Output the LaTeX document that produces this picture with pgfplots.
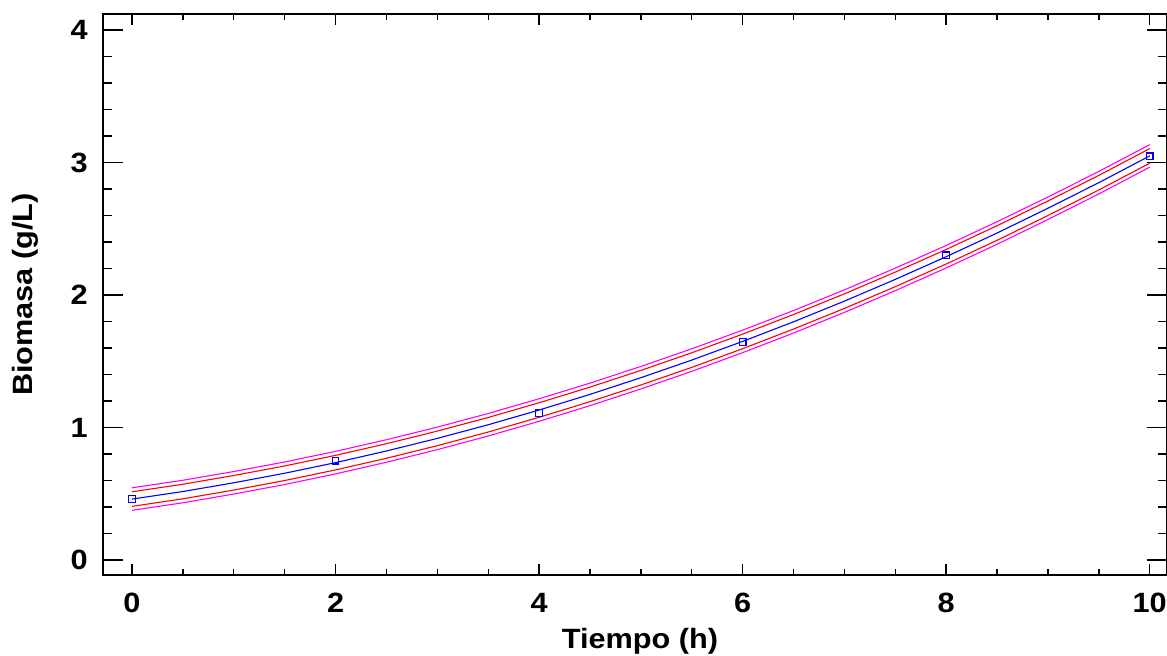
\documentclass[border=0pt]{standalone}
\usepackage{pgfplots}
\pgfplotsset{compat=1.18}
\usepackage{pgfplotstable}
\usepackage{fontspec}
\setmainfont{Liberation Sans}[FakeStretch=1.1]

\pgfplotstableread{
x fit rl rh ml mh
0 0.460 0.405 0.515 0.375 0.545
0.5 0.517 0.462 0.572 0.432 0.602
1 0.583 0.528 0.638 0.498 0.668
1.5 0.655 0.600 0.710 0.570 0.740
2 0.735 0.680 0.790 0.650 0.820
2.5 0.823 0.768 0.878 0.738 0.908
3 0.918 0.863 0.973 0.833 1.003
3.5 1.021 0.966 1.076 0.936 1.106
4 1.132 1.077 1.187 1.047 1.217
4.5 1.250 1.195 1.305 1.165 1.335
5 1.376 1.321 1.431 1.291 1.461
5.5 1.509 1.454 1.564 1.424 1.594
6 1.650 1.595 1.705 1.565 1.735
6.5 1.798 1.743 1.853 1.713 1.883
7 1.954 1.899 2.009 1.869 2.039
7.5 2.118 2.063 2.173 2.033 2.203
8 2.289 2.234 2.344 2.204 2.374
8.5 2.468 2.413 2.523 2.383 2.553
9 2.655 2.600 2.710 2.570 2.740
9.5 2.848 2.793 2.903 2.763 2.933
10 3.050 2.995 3.105 2.965 3.135
}\fitdata

\pgfplotstableread{
x y
0 0.460
2 0.750
4 1.110
6 1.645
8 2.300
10 3.047
}\obsdata

\definecolor{bandmag}{RGB}{255,0,255}
\definecolor{bandred}{RGB}{255,0,0}
\definecolor{fitblue}{RGB}{0,0,255}

\begin{document}
\begin{tikzpicture}
\begin{axis}[
  name=ax,
  scale only axis,
  width=1064bp, height=561bp,
  xmin=-0.285, xmax=10.17,
  ymin=-0.113, ymax=4.121,
  xtick={0,2,4,6,8,10},
  ytick={0,1,2,3,4},
  minor x tick num=3,
  minor y tick num=4,
  axis line style={line width=1.6bp, black},
  tick style={line width=1.4bp, black},
  xtick style={/pgfplots/major tick length=11bp, /pgfplots/minor tick length=6bp},
  ytick style={/pgfplots/major tick length=20bp, /pgfplots/minor tick length=9bp},
  /pgf/number format/assume math mode=true,
  ticklabel style={font=\fontsize{28}{30}\selectfont\bfseries},
  xticklabel style={inner sep=0pt, anchor=north, yshift=-18bp},
  yticklabel style={inner sep=0pt, anchor=east, xshift=-15bp},
  every axis x label/.style={at={([yshift=-73bp,xshift=5bp]rel axis cs:0.5,0)}, anchor=base, font=\fontsize{28}{30}\selectfont\bfseries},
  every axis y label/.style={at={([xshift=-70bp]rel axis cs:0,0.5)}, rotate=90, anchor=base, font=\fontsize{28}{30}\selectfont\bfseries},
  xlabel={Tiempo (h)},
  ylabel={Biomasa (g/L)},
  clip=false,
]
\addplot[bandmag, line width=1.1bp] table[x=x, y=mh] {\fitdata};
\addplot[bandmag, line width=1.1bp] table[x=x, y=ml] {\fitdata};
\addplot[bandred, line width=1.1bp] table[x=x, y=rh] {\fitdata};
\addplot[bandred, line width=1.1bp] table[x=x, y=rl] {\fitdata};
\addplot[fitblue, line width=1.1bp] table[x=x, y=fit] {\fitdata};
\addplot[only marks, fitblue, mark=square, mark size=3.3bp, mark options={line width=1.2bp, fill=white}] table[x=x, y=y] {\obsdata};
\end{axis}
\pgfresetboundingbox
\path[use as bounding box] ([xshift=-103bp,yshift=-81bp]ax.south west) rectangle ([yshift=14bp]ax.north east);
\end{tikzpicture}
\end{document}
